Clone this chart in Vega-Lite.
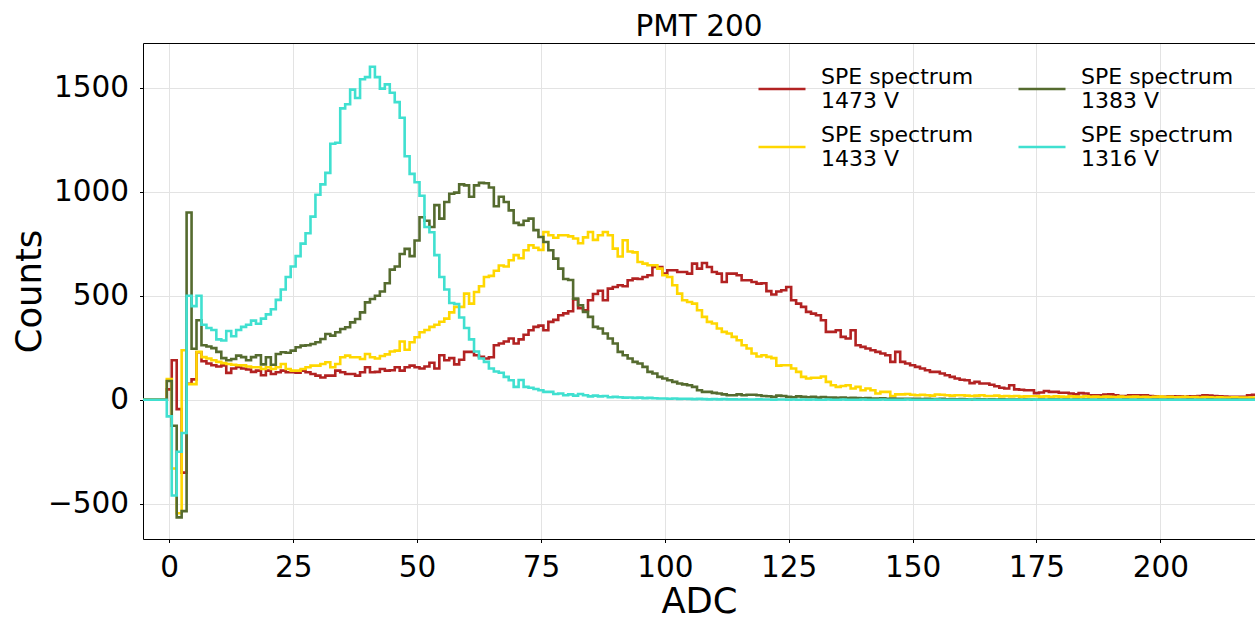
{
"$schema": "https://vega.github.io/schema/vega-lite/v6.json",
"width": 1112,
"height": 496,
"autosize": {"type": "none"},
"padding": {"left": 143, "top": 43, "right": 0, "bottom": 78},
"background": "white",
"title": {"text": "PMT 200", "font": "DejaVu Sans", "fontSize": 29.5, "fontWeight": "normal", "color": "black", "anchor": "middle", "frame": "group", "baseline": "top", "offset": 1},
"resolve": {"axis": {"x": "independent"}},
"config": {
  "view": {"stroke": null},
  "font": "DejaVu Sans",
  "axis": {"labelFont": "DejaVu Sans", "titleFont": "DejaVu Sans", "labelColor": "black", "titleColor": "black", "titleFontWeight": "normal", "domainColor": "black", "domainWidth": 1, "tickColor": "black", "tickWidth": 1, "tickSize": 3.5, "gridColor": "#e3e3e3", "gridWidth": 1}
},
"datasets": {
"red": [
{"adc":-6,"counts":0,"series":"1473 V"},{"adc":-5,"counts":0,"series":"1473 V"},{"adc":-4,"counts":0,"series":"1473 V"},{"adc":-3,"counts":0,"series":"1473 V"},{"adc":-2,"counts":0,"series":"1473 V"},{"adc":-1,"counts":0,"series":"1473 V"},
{"adc":0,"counts":50,"series":"1473 V"},{"adc":1,"counts":190,"series":"1473 V"},{"adc":2,"counts":-45,"series":"1473 V"},{"adc":3,"counts":-350,"series":"1473 V"},{"adc":4,"counts":77,"series":"1473 V"},{"adc":5,"counts":98,"series":"1473 V"},{"adc":6,"counts":228,"series":"1473 V"},{"adc":7,"counts":185,"series":"1473 V"},{"adc":8,"counts":174,"series":"1473 V"},{"adc":9,"counts":166,"series":"1473 V"},
{"adc":10,"counts":160,"series":"1473 V"},{"adc":11,"counts":165,"series":"1473 V"},{"adc":12,"counts":129,"series":"1473 V"},{"adc":13,"counts":150,"series":"1473 V"},{"adc":14,"counts":158,"series":"1473 V"},{"adc":15,"counts":150,"series":"1473 V"},{"adc":16,"counts":145,"series":"1473 V"},{"adc":17,"counts":134,"series":"1473 V"},{"adc":18,"counts":140,"series":"1473 V"},{"adc":19,"counts":118,"series":"1473 V"},
{"adc":20,"counts":140,"series":"1473 V"},{"adc":21,"counts":124,"series":"1473 V"},{"adc":22,"counts":132,"series":"1473 V"},{"adc":23,"counts":140,"series":"1473 V"},{"adc":24,"counts":132,"series":"1473 V"},{"adc":25,"counts":132,"series":"1473 V"},{"adc":26,"counts":130,"series":"1473 V"},{"adc":27,"counts":140,"series":"1473 V"},{"adc":28,"counts":132,"series":"1473 V"},{"adc":29,"counts":124,"series":"1473 V"},
{"adc":30,"counts":116,"series":"1473 V"},{"adc":31,"counts":107,"series":"1473 V"},{"adc":32,"counts":116,"series":"1473 V"},{"adc":33,"counts":116,"series":"1473 V"},{"adc":34,"counts":140,"series":"1473 V"},{"adc":35,"counts":132,"series":"1473 V"},{"adc":36,"counts":124,"series":"1473 V"},{"adc":37,"counts":124,"series":"1473 V"},{"adc":38,"counts":116,"series":"1473 V"},{"adc":39,"counts":132,"series":"1473 V"},
{"adc":40,"counts":156,"series":"1473 V"},{"adc":41,"counts":132,"series":"1473 V"},{"adc":42,"counts":134,"series":"1473 V"},{"adc":43,"counts":148,"series":"1473 V"},{"adc":44,"counts":140,"series":"1473 V"},{"adc":45,"counts":142,"series":"1473 V"},{"adc":46,"counts":156,"series":"1473 V"},{"adc":47,"counts":140,"series":"1473 V"},{"adc":48,"counts":156,"series":"1473 V"},{"adc":49,"counts":164,"series":"1473 V"},
{"adc":50,"counts":156,"series":"1473 V"},{"adc":51,"counts":150,"series":"1473 V"},{"adc":52,"counts":160,"series":"1473 V"},{"adc":53,"counts":178,"series":"1473 V"},{"adc":54,"counts":150,"series":"1473 V"},{"adc":55,"counts":214,"series":"1473 V"},{"adc":56,"counts":190,"series":"1473 V"},{"adc":57,"counts":200,"series":"1473 V"},{"adc":58,"counts":170,"series":"1473 V"},{"adc":59,"counts":192,"series":"1473 V"},
{"adc":60,"counts":230,"series":"1473 V"},{"adc":61,"counts":230,"series":"1473 V"},{"adc":62,"counts":214,"series":"1473 V"},{"adc":63,"counts":206,"series":"1473 V"},{"adc":64,"counts":198,"series":"1473 V"},{"adc":65,"counts":204,"series":"1473 V"},{"adc":66,"counts":262,"series":"1473 V"},{"adc":67,"counts":270,"series":"1473 V"},{"adc":68,"counts":280,"series":"1473 V"},{"adc":69,"counts":294,"series":"1473 V"},
{"adc":70,"counts":270,"series":"1473 V"},{"adc":71,"counts":290,"series":"1473 V"},{"adc":72,"counts":312,"series":"1473 V"},{"adc":73,"counts":334,"series":"1473 V"},{"adc":74,"counts":350,"series":"1473 V"},{"adc":75,"counts":356,"series":"1473 V"},{"adc":76,"counts":334,"series":"1473 V"},{"adc":77,"counts":374,"series":"1473 V"},{"adc":78,"counts":384,"series":"1473 V"},{"adc":79,"counts":406,"series":"1473 V"},
{"adc":80,"counts":415,"series":"1473 V"},{"adc":81,"counts":425,"series":"1473 V"},{"adc":82,"counts":482,"series":"1473 V"},{"adc":83,"counts":440,"series":"1473 V"},{"adc":84,"counts":430,"series":"1473 V"},{"adc":85,"counts":478,"series":"1473 V"},{"adc":86,"counts":508,"series":"1473 V"},{"adc":87,"counts":524,"series":"1473 V"},{"adc":88,"counts":478,"series":"1473 V"},{"adc":89,"counts":534,"series":"1473 V"},
{"adc":90,"counts":542,"series":"1473 V"},{"adc":91,"counts":550,"series":"1473 V"},{"adc":92,"counts":545,"series":"1473 V"},{"adc":93,"counts":574,"series":"1473 V"},{"adc":94,"counts":582,"series":"1473 V"},{"adc":95,"counts":580,"series":"1473 V"},{"adc":96,"counts":590,"series":"1473 V"},{"adc":97,"counts":598,"series":"1473 V"},{"adc":98,"counts":638,"series":"1473 V"},{"adc":99,"counts":638,"series":"1473 V"},
{"adc":100,"counts":606,"series":"1473 V"},{"adc":101,"counts":622,"series":"1473 V"},{"adc":102,"counts":622,"series":"1473 V"},{"adc":103,"counts":614,"series":"1473 V"},{"adc":104,"counts":614,"series":"1473 V"},{"adc":105,"counts":606,"series":"1473 V"},{"adc":106,"counts":654,"series":"1473 V"},{"adc":107,"counts":630,"series":"1473 V"},{"adc":108,"counts":657,"series":"1473 V"},{"adc":109,"counts":638,"series":"1473 V"},
{"adc":110,"counts":614,"series":"1473 V"},{"adc":111,"counts":606,"series":"1473 V"},{"adc":112,"counts":566,"series":"1473 V"},{"adc":113,"counts":606,"series":"1473 V"},{"adc":114,"counts":606,"series":"1473 V"},{"adc":115,"counts":598,"series":"1473 V"},{"adc":116,"counts":574,"series":"1473 V"},{"adc":117,"counts":574,"series":"1473 V"},{"adc":118,"counts":566,"series":"1473 V"},{"adc":119,"counts":558,"series":"1473 V"},
{"adc":120,"counts":560,"series":"1473 V"},{"adc":121,"counts":522,"series":"1473 V"},{"adc":122,"counts":506,"series":"1473 V"},{"adc":123,"counts":520,"series":"1473 V"},{"adc":124,"counts":526,"series":"1473 V"},{"adc":125,"counts":542,"series":"1473 V"},{"adc":126,"counts":478,"series":"1473 V"},{"adc":127,"counts":462,"series":"1473 V"},{"adc":128,"counts":446,"series":"1473 V"},{"adc":129,"counts":422,"series":"1473 V"},
{"adc":130,"counts":414,"series":"1473 V"},{"adc":131,"counts":406,"series":"1473 V"},{"adc":132,"counts":382,"series":"1473 V"},{"adc":133,"counts":326,"series":"1473 V"},{"adc":134,"counts":326,"series":"1473 V"},{"adc":135,"counts":334,"series":"1473 V"},{"adc":136,"counts":302,"series":"1473 V"},{"adc":137,"counts":294,"series":"1473 V"},{"adc":138,"counts":334,"series":"1473 V"},{"adc":139,"counts":262,"series":"1473 V"},
{"adc":140,"counts":254,"series":"1473 V"},{"adc":141,"counts":246,"series":"1473 V"},{"adc":142,"counts":238,"series":"1473 V"},{"adc":143,"counts":230,"series":"1473 V"},{"adc":144,"counts":222,"series":"1473 V"},{"adc":145,"counts":214,"series":"1473 V"},{"adc":146,"counts":182,"series":"1473 V"},{"adc":147,"counts":230,"series":"1473 V"},{"adc":148,"counts":182,"series":"1473 V"},{"adc":149,"counts":174,"series":"1473 V"},
{"adc":150,"counts":166,"series":"1473 V"},{"adc":151,"counts":158,"series":"1473 V"},{"adc":152,"counts":150,"series":"1473 V"},{"adc":153,"counts":142,"series":"1473 V"},{"adc":154,"counts":134,"series":"1473 V"},{"adc":155,"counts":134,"series":"1473 V"},{"adc":156,"counts":126,"series":"1473 V"},{"adc":157,"counts":118,"series":"1473 V"},{"adc":158,"counts":110,"series":"1473 V"},{"adc":159,"counts":102,"series":"1473 V"},
{"adc":160,"counts":96,"series":"1473 V"},{"adc":161,"counts":94,"series":"1473 V"},{"adc":162,"counts":80,"series":"1473 V"},{"adc":163,"counts":86,"series":"1473 V"},{"adc":164,"counts":78,"series":"1473 V"},{"adc":165,"counts":78,"series":"1473 V"},{"adc":166,"counts":72,"series":"1473 V"},{"adc":167,"counts":65,"series":"1473 V"},{"adc":168,"counts":58,"series":"1473 V"},{"adc":169,"counts":54,"series":"1473 V"},
{"adc":170,"counts":70,"series":"1473 V"},{"adc":171,"counts":50,"series":"1473 V"},{"adc":172,"counts":48,"series":"1473 V"},{"adc":173,"counts":46,"series":"1473 V"},{"adc":174,"counts":46,"series":"1473 V"},{"adc":175,"counts":32,"series":"1473 V"},{"adc":176,"counts":35,"series":"1473 V"},{"adc":177,"counts":42,"series":"1473 V"},{"adc":178,"counts":38,"series":"1473 V"},{"adc":179,"counts":38,"series":"1473 V"},
{"adc":180,"counts":34,"series":"1473 V"},{"adc":181,"counts":34,"series":"1473 V"},{"adc":182,"counts":30,"series":"1473 V"},{"adc":183,"counts":26,"series":"1473 V"},{"adc":184,"counts":32,"series":"1473 V"},{"adc":185,"counts":30,"series":"1473 V"},{"adc":186,"counts":22,"series":"1473 V"},{"adc":187,"counts":22,"series":"1473 V"},{"adc":188,"counts":22,"series":"1473 V"},{"adc":189,"counts":25,"series":"1473 V"},
{"adc":190,"counts":26,"series":"1473 V"},{"adc":191,"counts":22,"series":"1473 V"},{"adc":192,"counts":18,"series":"1473 V"},{"adc":193,"counts":18,"series":"1473 V"},{"adc":194,"counts":22,"series":"1473 V"},{"adc":195,"counts":22,"series":"1473 V"},{"adc":196,"counts":22,"series":"1473 V"},{"adc":197,"counts":22,"series":"1473 V"},{"adc":198,"counts":18,"series":"1473 V"},{"adc":199,"counts":17,"series":"1473 V"},
{"adc":200,"counts":14,"series":"1473 V"},{"adc":201,"counts":14,"series":"1473 V"},{"adc":202,"counts":16,"series":"1473 V"},{"adc":203,"counts":16,"series":"1473 V"},{"adc":204,"counts":16,"series":"1473 V"},{"adc":205,"counts":14,"series":"1473 V"},{"adc":206,"counts":17,"series":"1473 V"},{"adc":207,"counts":17,"series":"1473 V"},{"adc":208,"counts":18,"series":"1473 V"},{"adc":209,"counts":22,"series":"1473 V"},
{"adc":210,"counts":20,"series":"1473 V"},{"adc":211,"counts":18,"series":"1473 V"},{"adc":212,"counts":17,"series":"1473 V"},{"adc":213,"counts":15,"series":"1473 V"},{"adc":214,"counts":14,"series":"1473 V"},{"adc":215,"counts":14,"series":"1473 V"},{"adc":216,"counts":14,"series":"1473 V"},{"adc":217,"counts":14,"series":"1473 V"},{"adc":218,"counts":22,"series":"1473 V"},{"adc":219,"counts":24,"series":"1473 V"},
{"adc":220,"counts":25,"series":"1473 V"},{"adc":221,"counts":22,"series":"1473 V"}
],
"yellow": [
{"adc":-6,"counts":0,"series":"1433 V"},{"adc":-5,"counts":0,"series":"1433 V"},{"adc":-4,"counts":0,"series":"1433 V"},{"adc":-3,"counts":0,"series":"1433 V"},{"adc":-2,"counts":0,"series":"1433 V"},{"adc":-1,"counts":0,"series":"1433 V"},
{"adc":0,"counts":100,"series":"1433 V"},{"adc":1,"counts":-330,"series":"1433 V"},{"adc":2,"counts":-545,"series":"1433 V"},{"adc":3,"counts":238,"series":"1433 V"},{"adc":4,"counts":75,"series":"1433 V"},{"adc":5,"counts":75,"series":"1433 V"},{"adc":6,"counts":230,"series":"1433 V"},{"adc":7,"counts":205,"series":"1433 V"},{"adc":8,"counts":198,"series":"1433 V"},{"adc":9,"counts":190,"series":"1433 V"},
{"adc":10,"counts":182,"series":"1433 V"},{"adc":11,"counts":176,"series":"1433 V"},{"adc":12,"counts":172,"series":"1433 V"},{"adc":13,"counts":168,"series":"1433 V"},{"adc":14,"counts":166,"series":"1433 V"},{"adc":15,"counts":165,"series":"1433 V"},{"adc":16,"counts":160,"series":"1433 V"},{"adc":17,"counts":156,"series":"1433 V"},{"adc":18,"counts":156,"series":"1433 V"},{"adc":19,"counts":148,"series":"1433 V"},
{"adc":20,"counts":156,"series":"1433 V"},{"adc":21,"counts":148,"series":"1433 V"},{"adc":22,"counts":156,"series":"1433 V"},{"adc":23,"counts":172,"series":"1433 V"},{"adc":24,"counts":148,"series":"1433 V"},{"adc":25,"counts":140,"series":"1433 V"},{"adc":26,"counts":140,"series":"1433 V"},{"adc":27,"counts":148,"series":"1433 V"},{"adc":28,"counts":156,"series":"1433 V"},{"adc":29,"counts":164,"series":"1433 V"},
{"adc":30,"counts":164,"series":"1433 V"},{"adc":31,"counts":172,"series":"1433 V"},{"adc":32,"counts":180,"series":"1433 V"},{"adc":33,"counts":156,"series":"1433 V"},{"adc":34,"counts":172,"series":"1433 V"},{"adc":35,"counts":204,"series":"1433 V"},{"adc":36,"counts":212,"series":"1433 V"},{"adc":37,"counts":204,"series":"1433 V"},{"adc":38,"counts":204,"series":"1433 V"},{"adc":39,"counts":196,"series":"1433 V"},
{"adc":40,"counts":220,"series":"1433 V"},{"adc":41,"counts":204,"series":"1433 V"},{"adc":42,"counts":198,"series":"1433 V"},{"adc":43,"counts":210,"series":"1433 V"},{"adc":44,"counts":218,"series":"1433 V"},{"adc":45,"counts":232,"series":"1433 V"},{"adc":46,"counts":236,"series":"1433 V"},{"adc":47,"counts":280,"series":"1433 V"},{"adc":48,"counts":240,"series":"1433 V"},{"adc":49,"counts":276,"series":"1433 V"},
{"adc":50,"counts":300,"series":"1433 V"},{"adc":51,"counts":324,"series":"1433 V"},{"adc":52,"counts":335,"series":"1433 V"},{"adc":53,"counts":350,"series":"1433 V"},{"adc":54,"counts":360,"series":"1433 V"},{"adc":55,"counts":375,"series":"1433 V"},{"adc":56,"counts":390,"series":"1433 V"},{"adc":57,"counts":420,"series":"1433 V"},{"adc":58,"counts":446,"series":"1433 V"},{"adc":59,"counts":446,"series":"1433 V"},
{"adc":60,"counts":510,"series":"1433 V"},{"adc":61,"counts":462,"series":"1433 V"},{"adc":62,"counts":518,"series":"1433 V"},{"adc":63,"counts":545,"series":"1433 V"},{"adc":64,"counts":590,"series":"1433 V"},{"adc":65,"counts":595,"series":"1433 V"},{"adc":66,"counts":620,"series":"1433 V"},{"adc":67,"counts":645,"series":"1433 V"},{"adc":68,"counts":640,"series":"1433 V"},{"adc":69,"counts":670,"series":"1433 V"},
{"adc":70,"counts":695,"series":"1433 V"},{"adc":71,"counts":680,"series":"1433 V"},{"adc":72,"counts":718,"series":"1433 V"},{"adc":73,"counts":742,"series":"1433 V"},{"adc":74,"counts":730,"series":"1433 V"},{"adc":75,"counts":720,"series":"1433 V"},{"adc":76,"counts":806,"series":"1433 V"},{"adc":77,"counts":790,"series":"1433 V"},{"adc":78,"counts":778,"series":"1433 V"},{"adc":79,"counts":790,"series":"1433 V"},
{"adc":80,"counts":790,"series":"1433 V"},{"adc":81,"counts":785,"series":"1433 V"},{"adc":82,"counts":775,"series":"1433 V"},{"adc":83,"counts":752,"series":"1433 V"},{"adc":84,"counts":780,"series":"1433 V"},{"adc":85,"counts":806,"series":"1433 V"},{"adc":86,"counts":768,"series":"1433 V"},{"adc":87,"counts":790,"series":"1433 V"},{"adc":88,"counts":806,"series":"1433 V"},{"adc":89,"counts":790,"series":"1433 V"},
{"adc":90,"counts":726,"series":"1433 V"},{"adc":91,"counts":688,"series":"1433 V"},{"adc":92,"counts":766,"series":"1433 V"},{"adc":93,"counts":712,"series":"1433 V"},{"adc":94,"counts":708,"series":"1433 V"},{"adc":95,"counts":662,"series":"1433 V"},{"adc":96,"counts":654,"series":"1433 V"},{"adc":97,"counts":646,"series":"1433 V"},{"adc":98,"counts":646,"series":"1433 V"},{"adc":99,"counts":630,"series":"1433 V"},
{"adc":100,"counts":598,"series":"1433 V"},{"adc":101,"counts":590,"series":"1433 V"},{"adc":102,"counts":550,"series":"1433 V"},{"adc":103,"counts":510,"series":"1433 V"},{"adc":104,"counts":478,"series":"1433 V"},{"adc":105,"counts":470,"series":"1433 V"},{"adc":106,"counts":462,"series":"1433 V"},{"adc":107,"counts":430,"series":"1433 V"},{"adc":108,"counts":398,"series":"1433 V"},{"adc":109,"counts":374,"series":"1433 V"},
{"adc":110,"counts":366,"series":"1433 V"},{"adc":111,"counts":342,"series":"1433 V"},{"adc":112,"counts":326,"series":"1433 V"},{"adc":113,"counts":318,"series":"1433 V"},{"adc":114,"counts":302,"series":"1433 V"},{"adc":115,"counts":286,"series":"1433 V"},{"adc":116,"counts":262,"series":"1433 V"},{"adc":117,"counts":246,"series":"1433 V"},{"adc":118,"counts":222,"series":"1433 V"},{"adc":119,"counts":208,"series":"1433 V"},
{"adc":120,"counts":214,"series":"1433 V"},{"adc":121,"counts":206,"series":"1433 V"},{"adc":122,"counts":200,"series":"1433 V"},{"adc":123,"counts":164,"series":"1433 V"},{"adc":124,"counts":166,"series":"1433 V"},{"adc":125,"counts":166,"series":"1433 V"},{"adc":126,"counts":150,"series":"1433 V"},{"adc":127,"counts":134,"series":"1433 V"},{"adc":128,"counts":110,"series":"1433 V"},{"adc":129,"counts":102,"series":"1433 V"},
{"adc":130,"counts":106,"series":"1433 V"},{"adc":131,"counts":106,"series":"1433 V"},{"adc":132,"counts":112,"series":"1433 V"},{"adc":133,"counts":86,"series":"1433 V"},{"adc":134,"counts":70,"series":"1433 V"},{"adc":135,"counts":62,"series":"1433 V"},{"adc":136,"counts":66,"series":"1433 V"},{"adc":137,"counts":70,"series":"1433 V"},{"adc":138,"counts":54,"series":"1433 V"},{"adc":139,"counts":62,"series":"1433 V"},
{"adc":140,"counts":46,"series":"1433 V"},{"adc":141,"counts":54,"series":"1433 V"},{"adc":142,"counts":46,"series":"1433 V"},{"adc":143,"counts":30,"series":"1433 V"},{"adc":144,"counts":38,"series":"1433 V"},{"adc":145,"counts":38,"series":"1433 V"},{"adc":146,"counts":18,"series":"1433 V"},{"adc":147,"counts":26,"series":"1433 V"},{"adc":148,"counts":26,"series":"1433 V"},{"adc":149,"counts":28,"series":"1433 V"},
{"adc":150,"counts":24,"series":"1433 V"},{"adc":151,"counts":22,"series":"1433 V"},{"adc":152,"counts":24,"series":"1433 V"},{"adc":153,"counts":22,"series":"1433 V"},{"adc":154,"counts":20,"series":"1433 V"},{"adc":155,"counts":25,"series":"1433 V"},{"adc":156,"counts":24,"series":"1433 V"},{"adc":157,"counts":22,"series":"1433 V"},{"adc":158,"counts":20,"series":"1433 V"},{"adc":159,"counts":22,"series":"1433 V"},
{"adc":160,"counts":22,"series":"1433 V"},{"adc":161,"counts":20,"series":"1433 V"},{"adc":162,"counts":18,"series":"1433 V"},{"adc":163,"counts":20,"series":"1433 V"},{"adc":164,"counts":22,"series":"1433 V"},{"adc":165,"counts":18,"series":"1433 V"},{"adc":166,"counts":18,"series":"1433 V"},{"adc":167,"counts":20,"series":"1433 V"},{"adc":168,"counts":16,"series":"1433 V"},{"adc":169,"counts":18,"series":"1433 V"},
{"adc":170,"counts":16,"series":"1433 V"},{"adc":171,"counts":18,"series":"1433 V"},{"adc":172,"counts":15,"series":"1433 V"},{"adc":173,"counts":16,"series":"1433 V"},{"adc":174,"counts":17,"series":"1433 V"},{"adc":175,"counts":17,"series":"1433 V"},{"adc":176,"counts":15,"series":"1433 V"},{"adc":177,"counts":16,"series":"1433 V"},{"adc":178,"counts":14,"series":"1433 V"},{"adc":179,"counts":16,"series":"1433 V"},
{"adc":180,"counts":15,"series":"1433 V"},{"adc":181,"counts":14,"series":"1433 V"},{"adc":182,"counts":16,"series":"1433 V"},{"adc":183,"counts":15,"series":"1433 V"},{"adc":184,"counts":14,"series":"1433 V"},{"adc":185,"counts":16,"series":"1433 V"},{"adc":186,"counts":14,"series":"1433 V"},{"adc":187,"counts":15,"series":"1433 V"},{"adc":188,"counts":13,"series":"1433 V"},{"adc":189,"counts":15,"series":"1433 V"},
{"adc":190,"counts":14,"series":"1433 V"},{"adc":191,"counts":13,"series":"1433 V"},{"adc":192,"counts":15,"series":"1433 V"},{"adc":193,"counts":13,"series":"1433 V"},{"adc":194,"counts":14,"series":"1433 V"},{"adc":195,"counts":15,"series":"1433 V"},{"adc":196,"counts":13,"series":"1433 V"},{"adc":197,"counts":14,"series":"1433 V"},{"adc":198,"counts":12,"series":"1433 V"},{"adc":199,"counts":14,"series":"1433 V"},
{"adc":200,"counts":15,"series":"1433 V"},{"adc":201,"counts":13,"series":"1433 V"},{"adc":202,"counts":14,"series":"1433 V"},{"adc":203,"counts":12,"series":"1433 V"},{"adc":204,"counts":13,"series":"1433 V"},{"adc":205,"counts":14,"series":"1433 V"},{"adc":206,"counts":12,"series":"1433 V"},{"adc":207,"counts":13,"series":"1433 V"},{"adc":208,"counts":11,"series":"1433 V"},{"adc":209,"counts":13,"series":"1433 V"},
{"adc":210,"counts":12,"series":"1433 V"},{"adc":211,"counts":11,"series":"1433 V"},{"adc":212,"counts":12,"series":"1433 V"},{"adc":213,"counts":11,"series":"1433 V"},{"adc":214,"counts":10,"series":"1433 V"},{"adc":215,"counts":12,"series":"1433 V"},{"adc":216,"counts":11,"series":"1433 V"},{"adc":217,"counts":10,"series":"1433 V"},{"adc":218,"counts":11,"series":"1433 V"},{"adc":219,"counts":10,"series":"1433 V"},
{"adc":220,"counts":10,"series":"1433 V"},{"adc":221,"counts":11,"series":"1433 V"}
],
"olive": [
{"adc":-6,"counts":0,"series":"1383 V"},{"adc":-5,"counts":0,"series":"1383 V"},{"adc":-4,"counts":0,"series":"1383 V"},{"adc":-3,"counts":0,"series":"1383 V"},{"adc":-2,"counts":0,"series":"1383 V"},{"adc":-1,"counts":0,"series":"1383 V"},
{"adc":0,"counts":90,"series":"1383 V"},{"adc":1,"counts":-125,"series":"1383 V"},{"adc":2,"counts":-565,"series":"1383 V"},{"adc":3,"counts":-535,"series":"1383 V"},{"adc":4,"counts":900,"series":"1383 V"},{"adc":5,"counts":245,"series":"1383 V"},{"adc":6,"counts":382,"series":"1383 V"},{"adc":7,"counts":262,"series":"1383 V"},{"adc":8,"counts":256,"series":"1383 V"},{"adc":9,"counts":248,"series":"1383 V"},
{"adc":10,"counts":230,"series":"1383 V"},{"adc":11,"counts":200,"series":"1383 V"},{"adc":12,"counts":190,"series":"1383 V"},{"adc":13,"counts":196,"series":"1383 V"},{"adc":14,"counts":212,"series":"1383 V"},{"adc":15,"counts":205,"series":"1383 V"},{"adc":16,"counts":190,"series":"1383 V"},{"adc":17,"counts":205,"series":"1383 V"},{"adc":18,"counts":214,"series":"1383 V"},{"adc":19,"counts":170,"series":"1383 V"},
{"adc":20,"counts":204,"series":"1383 V"},{"adc":21,"counts":168,"series":"1383 V"},{"adc":22,"counts":220,"series":"1383 V"},{"adc":23,"counts":228,"series":"1383 V"},{"adc":24,"counts":226,"series":"1383 V"},{"adc":25,"counts":236,"series":"1383 V"},{"adc":26,"counts":252,"series":"1383 V"},{"adc":27,"counts":260,"series":"1383 V"},{"adc":28,"counts":262,"series":"1383 V"},{"adc":29,"counts":268,"series":"1383 V"},
{"adc":30,"counts":276,"series":"1383 V"},{"adc":31,"counts":292,"series":"1383 V"},{"adc":32,"counts":316,"series":"1383 V"},{"adc":33,"counts":308,"series":"1383 V"},{"adc":34,"counts":324,"series":"1383 V"},{"adc":35,"counts":340,"series":"1383 V"},{"adc":36,"counts":348,"series":"1383 V"},{"adc":37,"counts":372,"series":"1383 V"},{"adc":38,"counts":388,"series":"1383 V"},{"adc":39,"counts":420,"series":"1383 V"},
{"adc":40,"counts":468,"series":"1383 V"},{"adc":41,"counts":484,"series":"1383 V"},{"adc":42,"counts":500,"series":"1383 V"},{"adc":43,"counts":520,"series":"1383 V"},{"adc":44,"counts":560,"series":"1383 V"},{"adc":45,"counts":625,"series":"1383 V"},{"adc":46,"counts":640,"series":"1383 V"},{"adc":47,"counts":700,"series":"1383 V"},{"adc":48,"counts":725,"series":"1383 V"},{"adc":49,"counts":690,"series":"1383 V"},
{"adc":50,"counts":765,"series":"1383 V"},{"adc":51,"counts":877,"series":"1383 V"},{"adc":52,"counts":860,"series":"1383 V"},{"adc":53,"counts":830,"series":"1383 V"},{"adc":54,"counts":935,"series":"1383 V"},{"adc":55,"counts":870,"series":"1383 V"},{"adc":56,"counts":950,"series":"1383 V"},{"adc":57,"counts":990,"series":"1383 V"},{"adc":58,"counts":995,"series":"1383 V"},{"adc":59,"counts":1035,"series":"1383 V"},
{"adc":60,"counts":1030,"series":"1383 V"},{"adc":61,"counts":975,"series":"1383 V"},{"adc":62,"counts":1030,"series":"1383 V"},{"adc":63,"counts":1042,"series":"1383 V"},{"adc":64,"counts":1040,"series":"1383 V"},{"adc":65,"counts":1020,"series":"1383 V"},{"adc":66,"counts":930,"series":"1383 V"},{"adc":67,"counts":975,"series":"1383 V"},{"adc":68,"counts":950,"series":"1383 V"},{"adc":69,"counts":910,"series":"1383 V"},
{"adc":70,"counts":850,"series":"1383 V"},{"adc":71,"counts":840,"series":"1383 V"},{"adc":72,"counts":860,"series":"1383 V"},{"adc":73,"counts":870,"series":"1383 V"},{"adc":74,"counts":815,"series":"1383 V"},{"adc":75,"counts":782,"series":"1383 V"},{"adc":76,"counts":758,"series":"1383 V"},{"adc":77,"counts":718,"series":"1383 V"},{"adc":78,"counts":678,"series":"1383 V"},{"adc":79,"counts":630,"series":"1383 V"},
{"adc":80,"counts":580,"series":"1383 V"},{"adc":81,"counts":575,"series":"1383 V"},{"adc":82,"counts":486,"series":"1383 V"},{"adc":83,"counts":454,"series":"1383 V"},{"adc":84,"counts":422,"series":"1383 V"},{"adc":85,"counts":398,"series":"1383 V"},{"adc":86,"counts":350,"series":"1383 V"},{"adc":87,"counts":342,"series":"1383 V"},{"adc":88,"counts":318,"series":"1383 V"},{"adc":89,"counts":294,"series":"1383 V"},
{"adc":90,"counts":270,"series":"1383 V"},{"adc":91,"counts":230,"series":"1383 V"},{"adc":92,"counts":214,"series":"1383 V"},{"adc":93,"counts":198,"series":"1383 V"},{"adc":94,"counts":182,"series":"1383 V"},{"adc":95,"counts":174,"series":"1383 V"},{"adc":96,"counts":158,"series":"1383 V"},{"adc":97,"counts":134,"series":"1383 V"},{"adc":98,"counts":126,"series":"1383 V"},{"adc":99,"counts":110,"series":"1383 V"},
{"adc":100,"counts":102,"series":"1383 V"},{"adc":101,"counts":94,"series":"1383 V"},{"adc":102,"counts":86,"series":"1383 V"},{"adc":103,"counts":78,"series":"1383 V"},{"adc":104,"counts":74,"series":"1383 V"},{"adc":105,"counts":70,"series":"1383 V"},{"adc":106,"counts":62,"series":"1383 V"},{"adc":107,"counts":46,"series":"1383 V"},{"adc":108,"counts":38,"series":"1383 V"},{"adc":109,"counts":38,"series":"1383 V"},
{"adc":110,"counts":33,"series":"1383 V"},{"adc":111,"counts":30,"series":"1383 V"},{"adc":112,"counts":26,"series":"1383 V"},{"adc":113,"counts":22,"series":"1383 V"},{"adc":114,"counts":22,"series":"1383 V"},{"adc":115,"counts":26,"series":"1383 V"},{"adc":116,"counts":22,"series":"1383 V"},{"adc":117,"counts":24,"series":"1383 V"},{"adc":118,"counts":24,"series":"1383 V"},{"adc":119,"counts":22,"series":"1383 V"},
{"adc":120,"counts":18,"series":"1383 V"},{"adc":121,"counts":17,"series":"1383 V"},{"adc":122,"counts":14,"series":"1383 V"},{"adc":123,"counts":20,"series":"1383 V"},{"adc":124,"counts":18,"series":"1383 V"},{"adc":125,"counts":14,"series":"1383 V"},{"adc":126,"counts":12,"series":"1383 V"},{"adc":127,"counts":16,"series":"1383 V"},{"adc":128,"counts":14,"series":"1383 V"},{"adc":129,"counts":12,"series":"1383 V"},
{"adc":130,"counts":14,"series":"1383 V"},{"adc":131,"counts":10,"series":"1383 V"},{"adc":132,"counts":13,"series":"1383 V"},{"adc":133,"counts":11,"series":"1383 V"},{"adc":134,"counts":10,"series":"1383 V"},{"adc":135,"counts":9,"series":"1383 V"},{"adc":136,"counts":11,"series":"1383 V"},{"adc":137,"counts":8,"series":"1383 V"},{"adc":138,"counts":9,"series":"1383 V"},{"adc":139,"counts":8,"series":"1383 V"},
{"adc":140,"counts":7,"series":"1383 V"},{"adc":141,"counts":8,"series":"1383 V"},{"adc":142,"counts":6,"series":"1383 V"},{"adc":143,"counts":6,"series":"1383 V"},{"adc":144,"counts":7,"series":"1383 V"},{"adc":145,"counts":5,"series":"1383 V"},{"adc":146,"counts":6,"series":"1383 V"},{"adc":147,"counts":5,"series":"1383 V"},{"adc":148,"counts":4,"series":"1383 V"},{"adc":149,"counts":5,"series":"1383 V"},
{"adc":150,"counts":4,"series":"1383 V"},{"adc":151,"counts":4,"series":"1383 V"},{"adc":152,"counts":3,"series":"1383 V"},{"adc":153,"counts":4,"series":"1383 V"},{"adc":154,"counts":3,"series":"1383 V"},{"adc":155,"counts":3,"series":"1383 V"},{"adc":156,"counts":4,"series":"1383 V"},{"adc":157,"counts":2,"series":"1383 V"},{"adc":158,"counts":3,"series":"1383 V"},{"adc":159,"counts":2,"series":"1383 V"},
{"adc":160,"counts":3,"series":"1383 V"},{"adc":161,"counts":2,"series":"1383 V"},{"adc":162,"counts":2,"series":"1383 V"},{"adc":163,"counts":3,"series":"1383 V"},{"adc":164,"counts":2,"series":"1383 V"},{"adc":165,"counts":1,"series":"1383 V"},{"adc":166,"counts":2,"series":"1383 V"},{"adc":167,"counts":1,"series":"1383 V"},{"adc":168,"counts":2,"series":"1383 V"},{"adc":169,"counts":1,"series":"1383 V"},
{"adc":170,"counts":1,"series":"1383 V"},{"adc":171,"counts":1,"series":"1383 V"},{"adc":172,"counts":0,"series":"1383 V"},{"adc":173,"counts":1,"series":"1383 V"},{"adc":174,"counts":1,"series":"1383 V"},{"adc":175,"counts":0,"series":"1383 V"},{"adc":176,"counts":1,"series":"1383 V"},{"adc":177,"counts":0,"series":"1383 V"},{"adc":178,"counts":1,"series":"1383 V"},{"adc":179,"counts":1,"series":"1383 V"},
{"adc":180,"counts":0,"series":"1383 V"},{"adc":181,"counts":1,"series":"1383 V"},{"adc":182,"counts":0,"series":"1383 V"},{"adc":183,"counts":1,"series":"1383 V"},{"adc":184,"counts":0,"series":"1383 V"},{"adc":185,"counts":1,"series":"1383 V"},{"adc":186,"counts":0,"series":"1383 V"},{"adc":187,"counts":0,"series":"1383 V"},{"adc":188,"counts":1,"series":"1383 V"},{"adc":189,"counts":0,"series":"1383 V"},
{"adc":190,"counts":1,"series":"1383 V"},{"adc":191,"counts":0,"series":"1383 V"},{"adc":192,"counts":0,"series":"1383 V"},{"adc":193,"counts":1,"series":"1383 V"},{"adc":194,"counts":0,"series":"1383 V"},{"adc":195,"counts":0,"series":"1383 V"},{"adc":196,"counts":1,"series":"1383 V"},{"adc":197,"counts":0,"series":"1383 V"},{"adc":198,"counts":0,"series":"1383 V"},{"adc":199,"counts":1,"series":"1383 V"},
{"adc":200,"counts":0,"series":"1383 V"},{"adc":201,"counts":0,"series":"1383 V"},{"adc":202,"counts":1,"series":"1383 V"},{"adc":203,"counts":0,"series":"1383 V"},{"adc":204,"counts":0,"series":"1383 V"},{"adc":205,"counts":0,"series":"1383 V"},{"adc":206,"counts":1,"series":"1383 V"},{"adc":207,"counts":0,"series":"1383 V"},{"adc":208,"counts":0,"series":"1383 V"},{"adc":209,"counts":0,"series":"1383 V"},
{"adc":210,"counts":1,"series":"1383 V"},{"adc":211,"counts":0,"series":"1383 V"},{"adc":212,"counts":0,"series":"1383 V"},{"adc":213,"counts":0,"series":"1383 V"},{"adc":214,"counts":0,"series":"1383 V"},{"adc":215,"counts":1,"series":"1383 V"},{"adc":216,"counts":0,"series":"1383 V"},{"adc":217,"counts":0,"series":"1383 V"},{"adc":218,"counts":0,"series":"1383 V"},{"adc":219,"counts":0,"series":"1383 V"},
{"adc":220,"counts":0,"series":"1383 V"},{"adc":221,"counts":0,"series":"1383 V"}
],
"cyan": [
{"adc":-6,"counts":0,"series":"1316 V"},{"adc":-5,"counts":0,"series":"1316 V"},{"adc":-4,"counts":0,"series":"1316 V"},{"adc":-3,"counts":0,"series":"1316 V"},{"adc":-2,"counts":0,"series":"1316 V"},{"adc":-1,"counts":0,"series":"1316 V"},
{"adc":0,"counts":-80,"series":"1316 V"},{"adc":1,"counts":-460,"series":"1316 V"},{"adc":2,"counts":-250,"series":"1316 V"},{"adc":3,"counts":-160,"series":"1316 V"},{"adc":4,"counts":500,"series":"1316 V"},{"adc":5,"counts":450,"series":"1316 V"},{"adc":6,"counts":500,"series":"1316 V"},{"adc":7,"counts":360,"series":"1316 V"},{"adc":8,"counts":345,"series":"1316 V"},{"adc":9,"counts":335,"series":"1316 V"},
{"adc":10,"counts":290,"series":"1316 V"},{"adc":11,"counts":285,"series":"1316 V"},{"adc":12,"counts":330,"series":"1316 V"},{"adc":13,"counts":305,"series":"1316 V"},{"adc":14,"counts":335,"series":"1316 V"},{"adc":15,"counts":350,"series":"1316 V"},{"adc":16,"counts":360,"series":"1316 V"},{"adc":17,"counts":380,"series":"1316 V"},{"adc":18,"counts":365,"series":"1316 V"},{"adc":19,"counts":390,"series":"1316 V"},
{"adc":20,"counts":410,"series":"1316 V"},{"adc":21,"counts":435,"series":"1316 V"},{"adc":22,"counts":480,"series":"1316 V"},{"adc":23,"counts":530,"series":"1316 V"},{"adc":24,"counts":590,"series":"1316 V"},{"adc":25,"counts":640,"series":"1316 V"},{"adc":26,"counts":690,"series":"1316 V"},{"adc":27,"counts":750,"series":"1316 V"},{"adc":28,"counts":800,"series":"1316 V"},{"adc":29,"counts":880,"series":"1316 V"},
{"adc":30,"counts":985,"series":"1316 V"},{"adc":31,"counts":1035,"series":"1316 V"},{"adc":32,"counts":1090,"series":"1316 V"},{"adc":33,"counts":1230,"series":"1316 V"},{"adc":34,"counts":1235,"series":"1316 V"},{"adc":35,"counts":1400,"series":"1316 V"},{"adc":36,"counts":1420,"series":"1316 V"},{"adc":37,"counts":1490,"series":"1316 V"},{"adc":38,"counts":1450,"series":"1316 V"},{"adc":39,"counts":1540,"series":"1316 V"},
{"adc":40,"counts":1550,"series":"1316 V"},{"adc":41,"counts":1600,"series":"1316 V"},{"adc":42,"counts":1550,"series":"1316 V"},{"adc":43,"counts":1495,"series":"1316 V"},{"adc":44,"counts":1515,"series":"1316 V"},{"adc":45,"counts":1475,"series":"1316 V"},{"adc":46,"counts":1430,"series":"1316 V"},{"adc":47,"counts":1355,"series":"1316 V"},{"adc":48,"counts":1170,"series":"1316 V"},{"adc":49,"counts":1085,"series":"1316 V"},
{"adc":50,"counts":1045,"series":"1316 V"},{"adc":51,"counts":980,"series":"1316 V"},{"adc":52,"counts":830,"series":"1316 V"},{"adc":53,"counts":805,"series":"1316 V"},{"adc":54,"counts":695,"series":"1316 V"},{"adc":55,"counts":590,"series":"1316 V"},{"adc":56,"counts":530,"series":"1316 V"},{"adc":57,"counts":465,"series":"1316 V"},{"adc":58,"counts":460,"series":"1316 V"},{"adc":59,"counts":395,"series":"1316 V"},
{"adc":60,"counts":345,"series":"1316 V"},{"adc":61,"counts":290,"series":"1316 V"},{"adc":62,"counts":232,"series":"1316 V"},{"adc":63,"counts":198,"series":"1316 V"},{"adc":64,"counts":182,"series":"1316 V"},{"adc":65,"counts":150,"series":"1316 V"},{"adc":66,"counts":136,"series":"1316 V"},{"adc":67,"counts":130,"series":"1316 V"},{"adc":68,"counts":110,"series":"1316 V"},{"adc":69,"counts":94,"series":"1316 V"},
{"adc":70,"counts":62,"series":"1316 V"},{"adc":71,"counts":95,"series":"1316 V"},{"adc":72,"counts":62,"series":"1316 V"},{"adc":73,"counts":58,"series":"1316 V"},{"adc":74,"counts":52,"series":"1316 V"},{"adc":75,"counts":46,"series":"1316 V"},{"adc":76,"counts":38,"series":"1316 V"},{"adc":77,"counts":38,"series":"1316 V"},{"adc":78,"counts":28,"series":"1316 V"},{"adc":79,"counts":30,"series":"1316 V"},
{"adc":80,"counts":22,"series":"1316 V"},{"adc":81,"counts":26,"series":"1316 V"},{"adc":82,"counts":20,"series":"1316 V"},{"adc":83,"counts":28,"series":"1316 V"},{"adc":84,"counts":22,"series":"1316 V"},{"adc":85,"counts":16,"series":"1316 V"},{"adc":86,"counts":20,"series":"1316 V"},{"adc":87,"counts":16,"series":"1316 V"},{"adc":88,"counts":18,"series":"1316 V"},{"adc":89,"counts":12,"series":"1316 V"},
{"adc":90,"counts":14,"series":"1316 V"},{"adc":91,"counts":12,"series":"1316 V"},{"adc":92,"counts":10,"series":"1316 V"},{"adc":93,"counts":11,"series":"1316 V"},{"adc":94,"counts":9,"series":"1316 V"},{"adc":95,"counts":10,"series":"1316 V"},{"adc":96,"counts":8,"series":"1316 V"},{"adc":97,"counts":9,"series":"1316 V"},{"adc":98,"counts":7,"series":"1316 V"},{"adc":99,"counts":6,"series":"1316 V"},
{"adc":100,"counts":6,"series":"1316 V"},{"adc":101,"counts":5,"series":"1316 V"},{"adc":102,"counts":6,"series":"1316 V"},{"adc":103,"counts":4,"series":"1316 V"},{"adc":104,"counts":5,"series":"1316 V"},{"adc":105,"counts":4,"series":"1316 V"},{"adc":106,"counts":3,"series":"1316 V"},{"adc":107,"counts":4,"series":"1316 V"},{"adc":108,"counts":3,"series":"1316 V"},{"adc":109,"counts":2,"series":"1316 V"},
{"adc":110,"counts":3,"series":"1316 V"},{"adc":111,"counts":2,"series":"1316 V"},{"adc":112,"counts":3,"series":"1316 V"},{"adc":113,"counts":2,"series":"1316 V"},{"adc":114,"counts":2,"series":"1316 V"},{"adc":115,"counts":1,"series":"1316 V"},{"adc":116,"counts":2,"series":"1316 V"},{"adc":117,"counts":1,"series":"1316 V"},{"adc":118,"counts":1,"series":"1316 V"},{"adc":119,"counts":2,"series":"1316 V"},
{"adc":120,"counts":1,"series":"1316 V"},{"adc":121,"counts":1,"series":"1316 V"},{"adc":122,"counts":0,"series":"1316 V"},{"adc":123,"counts":1,"series":"1316 V"},{"adc":124,"counts":1,"series":"1316 V"},{"adc":125,"counts":0,"series":"1316 V"},{"adc":126,"counts":1,"series":"1316 V"},{"adc":127,"counts":0,"series":"1316 V"},{"adc":128,"counts":1,"series":"1316 V"},{"adc":129,"counts":0,"series":"1316 V"},
{"adc":130,"counts":1,"series":"1316 V"},{"adc":131,"counts":0,"series":"1316 V"},{"adc":132,"counts":0,"series":"1316 V"},{"adc":133,"counts":1,"series":"1316 V"},{"adc":134,"counts":0,"series":"1316 V"},{"adc":135,"counts":0,"series":"1316 V"},{"adc":136,"counts":1,"series":"1316 V"},{"adc":137,"counts":0,"series":"1316 V"},{"adc":138,"counts":0,"series":"1316 V"},{"adc":139,"counts":0,"series":"1316 V"},
{"adc":140,"counts":1,"series":"1316 V"},{"adc":141,"counts":0,"series":"1316 V"},{"adc":142,"counts":0,"series":"1316 V"},{"adc":143,"counts":0,"series":"1316 V"},{"adc":144,"counts":1,"series":"1316 V"},{"adc":145,"counts":0,"series":"1316 V"},{"adc":146,"counts":0,"series":"1316 V"},{"adc":147,"counts":0,"series":"1316 V"},{"adc":148,"counts":0,"series":"1316 V"},{"adc":149,"counts":1,"series":"1316 V"},
{"adc":150,"counts":0,"series":"1316 V"},{"adc":151,"counts":0,"series":"1316 V"},{"adc":152,"counts":0,"series":"1316 V"},{"adc":153,"counts":0,"series":"1316 V"},{"adc":154,"counts":0,"series":"1316 V"},{"adc":155,"counts":1,"series":"1316 V"},{"adc":156,"counts":0,"series":"1316 V"},{"adc":157,"counts":0,"series":"1316 V"},{"adc":158,"counts":0,"series":"1316 V"},{"adc":159,"counts":0,"series":"1316 V"},
{"adc":160,"counts":0,"series":"1316 V"},{"adc":161,"counts":0,"series":"1316 V"},{"adc":162,"counts":1,"series":"1316 V"},{"adc":163,"counts":0,"series":"1316 V"},{"adc":164,"counts":0,"series":"1316 V"},{"adc":165,"counts":0,"series":"1316 V"},{"adc":166,"counts":0,"series":"1316 V"},{"adc":167,"counts":0,"series":"1316 V"},{"adc":168,"counts":0,"series":"1316 V"},{"adc":169,"counts":0,"series":"1316 V"},
{"adc":170,"counts":0,"series":"1316 V"},{"adc":171,"counts":0,"series":"1316 V"},{"adc":172,"counts":0,"series":"1316 V"},{"adc":173,"counts":0,"series":"1316 V"},{"adc":174,"counts":1,"series":"1316 V"},{"adc":175,"counts":0,"series":"1316 V"},{"adc":176,"counts":0,"series":"1316 V"},{"adc":177,"counts":0,"series":"1316 V"},{"adc":178,"counts":0,"series":"1316 V"},{"adc":179,"counts":0,"series":"1316 V"},
{"adc":180,"counts":0,"series":"1316 V"},{"adc":181,"counts":0,"series":"1316 V"},{"adc":182,"counts":0,"series":"1316 V"},{"adc":183,"counts":0,"series":"1316 V"},{"adc":184,"counts":0,"series":"1316 V"},{"adc":185,"counts":0,"series":"1316 V"},{"adc":186,"counts":0,"series":"1316 V"},{"adc":187,"counts":0,"series":"1316 V"},{"adc":188,"counts":0,"series":"1316 V"},{"adc":189,"counts":0,"series":"1316 V"},
{"adc":190,"counts":0,"series":"1316 V"},{"adc":191,"counts":0,"series":"1316 V"},{"adc":192,"counts":0,"series":"1316 V"},{"adc":193,"counts":0,"series":"1316 V"},{"adc":194,"counts":0,"series":"1316 V"},{"adc":195,"counts":0,"series":"1316 V"},{"adc":196,"counts":0,"series":"1316 V"},{"adc":197,"counts":0,"series":"1316 V"},{"adc":198,"counts":0,"series":"1316 V"},{"adc":199,"counts":0,"series":"1316 V"},
{"adc":200,"counts":0,"series":"1316 V"},{"adc":201,"counts":0,"series":"1316 V"},{"adc":202,"counts":0,"series":"1316 V"},{"adc":203,"counts":0,"series":"1316 V"},{"adc":204,"counts":0,"series":"1316 V"},{"adc":205,"counts":0,"series":"1316 V"},{"adc":206,"counts":0,"series":"1316 V"},{"adc":207,"counts":0,"series":"1316 V"},{"adc":208,"counts":0,"series":"1316 V"},{"adc":209,"counts":0,"series":"1316 V"},
{"adc":210,"counts":0,"series":"1316 V"},{"adc":211,"counts":0,"series":"1316 V"},{"adc":212,"counts":0,"series":"1316 V"},{"adc":213,"counts":0,"series":"1316 V"},{"adc":214,"counts":0,"series":"1316 V"},{"adc":215,"counts":0,"series":"1316 V"},{"adc":216,"counts":0,"series":"1316 V"},{"adc":217,"counts":0,"series":"1316 V"},{"adc":218,"counts":0,"series":"1316 V"},{"adc":219,"counts":0,"series":"1316 V"},
{"adc":220,"counts":0,"series":"1316 V"},{"adc":221,"counts":0,"series":"1316 V"}
]
},
"layer": [
{
"data": {"name": "red"},
"mark": {"type": "line", "interpolate": "step", "strokeWidth": 2.6, "clip": true},
"encoding": {
  "x": {"field": "adc", "type": "quantitative", "scale": {"domain": [-5.3, 219.1], "nice": false, "zero": false},
        "axis": {"orient": "bottom", "values": [0,25,50,75,100,125,150,175,200], "labelFontSize": 29.5, "labelPadding": 11, "title": "ADC", "titleFontSize": 35.4, "titlePadding": 2, "grid": true}},
  "y": {"field": "counts", "type": "quantitative", "scale": {"domain": [-669, 1714], "nice": false, "zero": false},
        "axis": {"orient": "left", "values": [-500,0,500,1000,1500], "format": "d", "labelFontSize": 29.5, "labelPadding": 11, "title": "Counts", "titleFontSize": 35.4, "titlePadding": 0, "grid": true}},
  "color": {"field": "series", "type": "nominal",
            "scale": {"domain": ["1473 V", "1383 V", "1433 V", "1316 V"], "range": ["#b22222", "#556b2f", "#ffd700", "#40e0d0"]},
            "legend": {"orient": "none", "legendX": 614, "legendY": 21, "columns": 2, "direction": "horizontal", "title": null, "symbolType": "stroke", "symbolSize": 2209, "symbolStrokeWidth": 2.6, "labelFont": "DejaVu Sans", "labelFontSize": 22, "labelColor": "black", "labelOffset": 14, "labelLimit": 0, "labelBaseline": "bottom", "columnPadding": 39, "rowPadding": 10, "padding": 0, "labelExpr": "['SPE spectrum', datum.label]"}}
}
},
{
"data": {"name": "yellow"},
"mark": {"type": "line", "interpolate": "step", "strokeWidth": 2.6, "clip": true},
"encoding": {
  "x": {"field": "adc", "type": "quantitative", "axis": null},
  "y": {"field": "counts", "type": "quantitative",
        "axis": {"orient": "left", "values": [-500,0,500,1000,1500], "format": "d", "labelFontSize": 29.5, "labelPadding": 11, "title": "Counts", "titleFontSize": 35.4, "titlePadding": 0, "grid": true}},
  "color": {"field": "series", "type": "nominal"}
}
},
{
"data": {"name": "olive"},
"mark": {"type": "line", "interpolate": "step", "strokeWidth": 2.6, "clip": true},
"encoding": {
  "x": {"field": "adc", "type": "quantitative", "axis": null},
  "y": {"field": "counts", "type": "quantitative",
        "axis": {"orient": "left", "values": [-500,0,500,1000,1500], "format": "d", "labelFontSize": 29.5, "labelPadding": 11, "title": "Counts", "titleFontSize": 35.4, "titlePadding": 0, "grid": true}},
  "color": {"field": "series", "type": "nominal"}
}
},
{
"data": {"name": "cyan"},
"mark": {"type": "line", "interpolate": "step", "strokeWidth": 2.6, "clip": true},
"encoding": {
  "x": {"field": "adc", "type": "quantitative", "axis": {"orient": "top", "labels": false, "ticks": false, "grid": false, "title": null, "domain": true}},
  "y": {"field": "counts", "type": "quantitative",
        "axis": {"orient": "left", "values": [-500,0,500,1000,1500], "format": "d", "labelFontSize": 29.5, "labelPadding": 11, "title": "Counts", "titleFontSize": 35.4, "titlePadding": 0, "grid": true}},
  "color": {"field": "series", "type": "nominal"}
}
}
]
}
